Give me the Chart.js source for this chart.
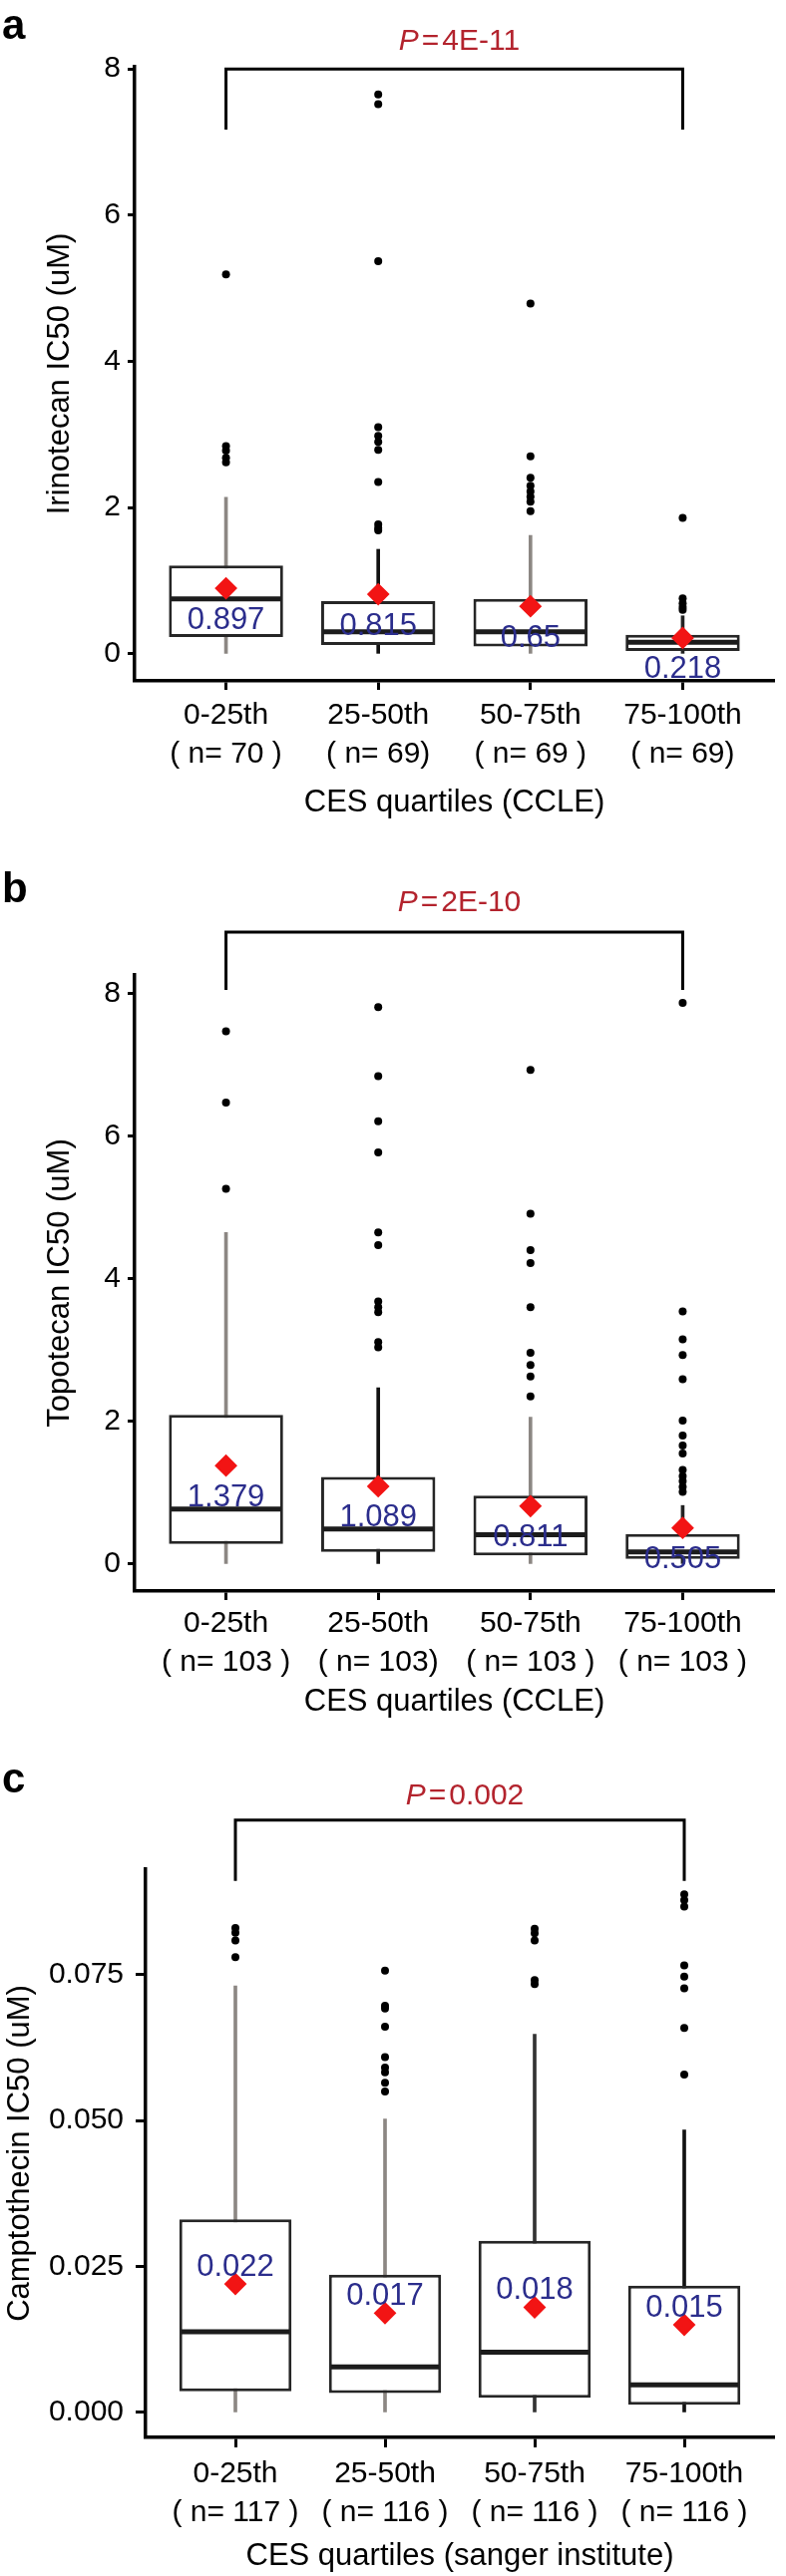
<!DOCTYPE html>
<html>
<head>
<meta charset="utf-8">
<script src="https://cdn.jsdelivr.net/npm/chart.js@4.4.1/dist/chart.umd.min.js"></script>
<style>
  html, body { margin: 0; padding: 0; background: #fff; }
  body { width: 788px; height: 2584px; position: relative; overflow: hidden; }
  canvas { position: absolute; left: 0; display: block; }
</style>
</head>
<body>
<canvas id="ca" width="788" height="870" style="top:0px"></canvas>
<canvas id="cb" width="788" height="870" style="top:870px"></canvas>
<canvas id="cc" width="788" height="844" style="top:1740px"></canvas>
<script>
// ---------------- data ----------------
const categories = ['0-25th', '25-50th', '50-75th', '75-100th'];

// Panel a : Irinotecan (CCLE)
const nLabelsA = ['( n= 70 )', '( n= 69)', '( n= 69 )', '( n= 69)'];
const q1A  = [0.23, 0.12, 0.10, 0.04];
const medA = [0.75, 0.30, 0.30, 0.16];
const q3A  = [1.21, 0.72, 0.75, 0.26];
const loA  = [0, 0, 0, 0];
const hiA  = [2.14, 1.43, 1.62, 0.52];
const meanA = [0.897, 0.815, 0.65, 0.218];
const outliersA = [
  [5.19, 2.84, 2.78, 2.68, 2.62],
  [7.65, 7.52, 5.37, 3.10, 2.98, 2.90, 2.79, 2.35, 1.77, 1.72, 1.69],
  [4.79, 2.70, 2.41, 2.30, 2.22, 2.15, 2.08, 1.95],
  [1.86, 0.76, 0.69, 0.64, 0.60]
];
const yTicksA = [0, 2, 4, 6, 8];
const pTextA = '4E-11';

// Panel b : Topotecan (CCLE)
const nLabelsB = ['( n= 103 )', '( n= 103)', '( n= 103 )', '( n= 103 )'];
const q1B  = [0.28, 0.17, 0.12, 0.07];
const medB = [0.77, 0.49, 0.41, 0.17];
const q3B  = [2.09, 1.22, 0.96, 0.42];
const loB  = [0, 0, 0, 0];
const hiB  = [4.65, 2.47, 2.06, 0.82];
const meanB = [1.379, 1.089, 0.811, 0.505];
const outliersB = [
  [7.47, 6.47, 5.26],
  [7.81, 6.84, 6.21, 5.77, 4.65, 4.47, 3.68, 3.60, 3.53, 3.11, 3.04],
  [6.93, 4.91, 4.40, 4.22, 3.60, 2.96, 2.79, 2.63, 2.35],
  [7.87, 3.54, 3.15, 2.93, 2.59, 2.01, 1.80, 1.66, 1.55, 1.32, 1.23, 1.16, 1.08, 1.01]
];
const yTicksB = [0, 2, 4, 6, 8];
const pTextB = '2E-10';

// Panel c : Camptothecin (sanger institute)
const nLabelsC = ['( n= 117 )', '( n= 116 )', '( n= 116 )', '( n= 116 )'];
const q1C  = [0.0036, 0.0033, 0.0025, 0.0013];
const medC = [0.0138, 0.0078, 0.0103, 0.0047];
const q3C  = [0.0331, 0.0236, 0.0294, 0.0217];
const loC  = [0, 0, 0, 0];
const hiC  = [0.0731, 0.0503, 0.0648, 0.0484];
const meanC = [0.022, 0.017, 0.018, 0.015];
const outliersC = [
  [0.0830, 0.0822, 0.0809, 0.0780],
  [0.0757, 0.0697, 0.0692, 0.0661, 0.0609, 0.0591, 0.0583, 0.0565, 0.0550],
  [0.0829, 0.0821, 0.0809, 0.0741, 0.0734],
  [0.0888, 0.0878, 0.0867, 0.0766, 0.0747, 0.0727, 0.0659, 0.0579]
];
const yTicksC = [0, 0.025, 0.05, 0.075];
const pTextC = '0.002';

// ---------------- styling ----------------
const FAM = "'Liberation Sans', Arial, Helvetica, sans-serif";
Chart.defaults.font.family = FAM;
Chart.defaults.color = '#000';
const GRAY = '#8c8783';
const DARK = '#1c1c1c';
const RED = '#f21414';

function boxChart(id, d, s) {
  const xs = d.cats.map((_, i) => i + 1);
  const outPts = [];
  d.out.forEach((arr, i) => arr.forEach(v => outPts.push({ x: i + 1, y: v })));
  const halfBox = c => {
    const sc = c.chart.scales.x;
    return sc.getPixelForValue(1.375) - sc.getPixelForValue(1) - 2;
  };
  const annot = {
    id: 'annot_' + id,
    afterDatasetsDraw(chart) {
      const ctx = chart.ctx, X = chart.scales.x, Y = chart.scales.y;
      ctx.save();
      ctx.font = '31px ' + FAM;
      ctx.fillStyle = '#2b2d8c';
      ctx.textAlign = 'center';
      ctx.textBaseline = 'middle';
      d.mean.forEach((m, i) => {
        ctx.fillText(String(m), X.getPixelForValue(i + 1), Y.getPixelForValue(m) + s.labelOffset);
      });
      ctx.restore();
    },
    afterDraw(chart) {
      const ctx = chart.ctx, X = chart.scales.x, Y = chart.scales.y;
      ctx.save();
      // panel letter
      ctx.font = 'bold 42px ' + FAM;
      ctx.fillStyle = '#000';
      ctx.textAlign = 'left';
      ctx.textBaseline = 'alphabetic';
      ctx.fillText(s.letter, 2, s.letterY);
      // bracket
      const x1 = X.getPixelForValue(d.bracket[0]), x2 = X.getPixelForValue(d.bracket[1]);
      const yt = Y.getPixelForValue(d.bracketTop), yl = Y.getPixelForValue(d.bracketLeg);
      ctx.strokeStyle = '#000';
      ctx.lineWidth = 3;
      ctx.lineCap = 'butt';
      ctx.lineJoin = 'miter';
      ctx.beginPath();
      ctx.moveTo(x1, yl); ctx.lineTo(x1, yt); ctx.lineTo(x2, yt); ctx.lineTo(x2, yl);
      ctx.stroke();
      // P value text
      const yp = Y.getPixelForValue(d.pY);
      ctx.fillStyle = '#b3232d';
      ctx.textBaseline = 'middle';
      ctx.textAlign = 'left';
      const fI = 'italic 30px ' + FAM, fN = '30px ' + FAM;
      ctx.font = fI; const wP = ctx.measureText('P').width;
      ctx.font = fN; const wE = ctx.measureText('=').width; const wV = ctx.measureText(d.p).width;
      const gap = 3;
      const total = wP + gap + wE + gap + wV;
      let xp = (x1 + x2) / 2 + 5 - total / 2;
      ctx.font = fI; ctx.fillText('P', xp, yp); xp += wP + gap;
      ctx.font = fN; ctx.fillText('=', xp, yp); xp += wE + gap;
      ctx.fillText(d.p, xp, yp);
      ctx.restore();
    }
  };

  return new Chart(document.getElementById(id), {
    type: 'bar',
    data: {
      datasets: [
        { type: 'bar', data: xs.map((x, i) => ({ x, y: [d.lo[i], d.hi[i]] })),
          backgroundColor: s.whisker, borderWidth: 0, barThickness: 3, grouped: false, order: 5 },
        { type: 'bar', data: xs.map((x, i) => ({ x, y: [d.q1[i], d.q3[i]] })),
          backgroundColor: '#ffffff', borderColor: '#262626', borderWidth: 3, borderSkipped: false,
          barPercentage: 0.75, categoryPercentage: 1, grouped: false, order: 4 },
        { type: 'scatter', data: xs.map((x, i) => ({ x, y: d.med[i] })),
          pointStyle: 'line', pointRadius: halfBox, pointBorderColor: DARK, pointBorderWidth: 5,
          pointBackgroundColor: DARK, showLine: false, order: 3 },
        { type: 'scatter', data: outPts, pointStyle: 'circle', pointRadius: 4,
          pointBackgroundColor: '#000', pointBorderWidth: 0, showLine: false, order: 2 },
        { type: 'scatter', data: xs.map((x, i) => ({ x, y: d.mean[i] })),
          pointStyle: 'rectRot', pointRadius: 10, pointBackgroundColor: RED,
          pointBorderColor: RED, pointBorderWidth: 2, showLine: false, order: 1 }
      ]
    },
    options: {
      responsive: false,
      devicePixelRatio: 1,
      animation: false,
      events: [],
      layout: { padding: { top: s.top, left: 0, right: 0, bottom: 0 } },
      plugins: { legend: { display: false }, tooltip: { enabled: false } },
      scales: {
        x: {
          type: 'linear', min: 0.4, max: 4.6, offset: false,
          afterBuildTicks: sc => { sc.ticks = xs.map(v => ({ value: v })); },
          afterFit: sc => { sc.height = s.xHeight; },
          ticks: {
            font: { size: 30, lineHeight: 1.3 }, color: '#000', padding: s.xPad, maxRotation: 0, autoSkip: false,
            callback: v => [d.cats[v - 1], d.n[v - 1]]
          },
          grid: { display: true, drawOnChartArea: false, drawTicks: true, tickLength: s.xTick, tickWidth: 3, tickColor: '#000', offset: false },
          border: { display: true, width: 3.5, color: '#000' },
          title: { display: true, text: d.xTitle, font: { size: 31, lineHeight: 1.2 }, color: '#000', padding: { top: 0, bottom: s.xTitlePad } }
        },
        y: {
          type: 'linear', min: d.yMin, max: d.yMax,
          afterBuildTicks: sc => { sc.ticks = d.yTicks.map(v => ({ value: v })); },
          afterFit: sc => { sc.width = s.yWidth; },
          ticks: { font: { size: 30 }, color: '#000', padding: s.yPad, callback: d.fmt },
          grid: { display: true, drawOnChartArea: false, drawTicks: true, tickLength: s.yTick, tickWidth: 3, tickColor: '#000' },
          border: { display: true, width: 3.5, color: '#000' },
          title: { display: true, text: d.yTitle, font: { size: 31, lineHeight: 1.2 }, color: '#000', padding: { top: s.yTitlePad, bottom: 0 } }
        }
      }
    },
    plugins: [annot]
  });
}

boxChart('ca', {
  cats: categories, n: nLabelsA, q1: q1A, med: medA, q3: q3A, lo: loA, hi: hiA, mean: meanA, out: outliersA,
  yMin: -0.37, yMax: 8.03, yTicks: yTicksA, fmt: v => String(v),
  yTitle: 'Irinotecan IC50 (uM)', xTitle: 'CES quartiles (CCLE)',
  p: pTextA, pY: 8.37, bracket: [1, 4], bracketTop: 8.0, bracketLeg: 7.17
}, {
  letter: 'a', letterY: 39, top: 67, xHeight: 187, yWidth: 135,
  xPad: 6, xTick: 9, yPad: 7, yTick: 7, xTitlePad: 46, yTitlePad: 42, labelOffset: 32,
  whisker: [GRAY, '#111111', GRAY, '#222222']
});

boxChart('cb', {
  cats: categories, n: nLabelsB, q1: q1B, med: medB, q3: q3B, lo: loB, hi: hiB, mean: meanB, out: outliersB,
  yMin: -0.38, yMax: 8.26, yTicks: yTicksB, fmt: v => String(v),
  yTitle: 'Topotecan IC50 (uM)', xTitle: 'CES quartiles (CCLE)',
  p: pTextB, pY: 9.27, bracket: [1, 4], bracketTop: 8.86, bracketLeg: 8.05
}, {
  letter: 'b', letterY: 35, top: 108, xHeight: 144, yWidth: 135,
  xPad: 4, xTick: 9, yPad: 7, yTick: 7, xTitlePad: 14, yTitlePad: 42, labelOffset: 32,
  whisker: [GRAY, '#111111', GRAY, '#222222']
});

boxChart('cc', {
  cats: categories, n: nLabelsC, q1: q1C, med: medC, q3: q3C, lo: loC, hi: hiC, mean: meanC, out: outliersC,
  yMin: -0.0043, yMax: 0.0931, yTicks: yTicksC, fmt: v => v.toFixed(3),
  yTitle: 'Camptothecin IC50 (uM)', xTitle: 'CES quartiles (sanger institute)',
  p: pTextC, pY: 0.1056, bracket: [1, 4], bracketTop: 0.1015, bracketLeg: 0.0911
}, {
  letter: 'c', letterY: 58, top: 135, xHeight: 139, yWidth: 146,
  xPad: 7, xTick: 10, yPad: 12, yTick: 10, xTitlePad: 1, yTitlePad: 2, labelOffset: -17,
  whisker: [GRAY, GRAY, '#333333', '#111111']
});
</script>
</body>
</html>
